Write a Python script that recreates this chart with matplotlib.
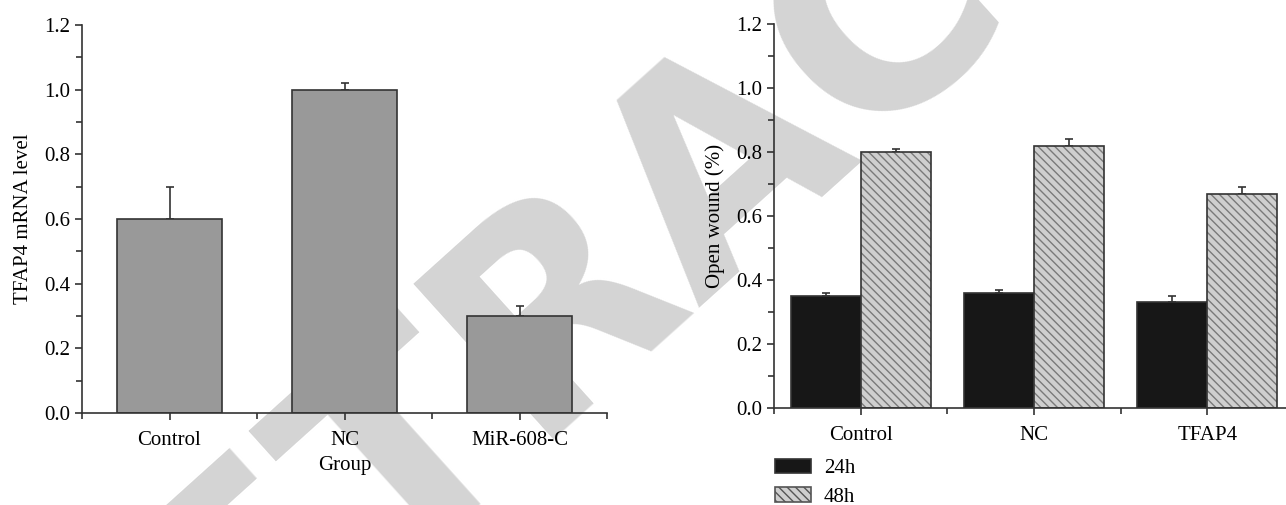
import numpy as np
import matplotlib
matplotlib.use("Agg")
import matplotlib.pyplot as plt
from matplotlib.patches import Patch
from matplotlib.ticker import MultipleLocator, FixedLocator

plt.rcParams['font.family'] = ['Liberation Serif', 'DejaVu Serif']
plt.rcParams['hatch.linewidth'] = 1.0

# left panel: TFAP4 mRNA level
groups_left = ["Control", "NC", "MiR-608-C"]
mrna = [0.60, 1.00, 0.30]
mrna_err = [0.10, 0.02, 0.03]

# right panel: open wound
groups_right = ["Control", "NC", "TFAP4"]
wound_24h = [0.35, 0.36, 0.33]
wound_24h_err = [0.01, 0.01, 0.02]
wound_48h = [0.80, 0.82, 0.67]
wound_48h_err = [0.01, 0.02, 0.02]

axis_col = "#333333"
fs = 15

fig = plt.figure(figsize=(12.86, 5.05), dpi=100)

# watermark, drawn under the axes
fig.text(0.564, 0.693, "RETRACTED", fontsize=207, color="#d4d4d4",
         rotation=42, ha="center", va="center", family="DejaVu Sans",
         fontweight="bold", zorder=-1)


def style_axes(ax):
    ax.patch.set_alpha(0)
    for s in ["top", "right"]:
        ax.spines[s].set_visible(False)
    for s in ["left", "bottom"]:
        ax.spines[s].set_color(axis_col)
        ax.spines[s].set_linewidth(1.2)
    ax.set_ylim(0, 1.2)
    ax.set_xlim(-0.5, 2.5)
    ax.yaxis.set_major_locator(MultipleLocator(0.2))
    ax.yaxis.set_minor_locator(MultipleLocator(0.1))
    ax.xaxis.set_major_locator(FixedLocator([0, 1, 2]))
    ax.xaxis.set_minor_locator(FixedLocator([-0.5, 0.5, 1.5, 2.5]))
    ax.yaxis.set_major_formatter(plt.FormatStrFormatter("%.1f"))
    ax.tick_params(which="both", direction="out", color=axis_col, width=1.2, labelsize=fs)
    ax.tick_params(which="major", length=5)
    ax.tick_params(which="minor", length=4)
    ax.tick_params(axis="x", pad=8)


# ---- left panel
ax1 = fig.add_axes([82 / 1286, 1 - 413 / 505, 525 / 1286, 388 / 505])
style_axes(ax1)
x1 = np.arange(len(groups_left))
ax1.bar(x1, mrna, width=0.6, color="#999999", edgecolor=axis_col, linewidth=1.2, zorder=2)
ax1.errorbar(x1, mrna, yerr=[np.zeros(3), mrna_err], fmt="none", ecolor=axis_col,
             elinewidth=1.2, capsize=3, capthick=1.2, zorder=1)
ax1.set_xticks(x1)
ax1.set_xticklabels(groups_left)
ax1.set_ylabel("TFAP4 mRNA level", fontsize=fs, labelpad=8)
ax1.set_xlabel("Group", fontsize=fs, labelpad=4)

# ---- right panel
ax2 = fig.add_axes([774 / 1286, 1 - 408 / 505, 520 / 1286, 384 / 505])
style_axes(ax2)
x2 = np.arange(len(groups_right))
w = 0.404
ax2.bar(x2 - w / 2, wound_24h, width=w, color="#171717", edgecolor=axis_col, linewidth=1.2, zorder=2)
ax2.bar(x2 + w / 2, wound_48h, width=w, color="#cfcfcf", edgecolor="#7a7a7a",
        hatch="\\\\\\\\", linewidth=0, zorder=2)
ax2.bar(x2 + w / 2, wound_48h, width=w, fill=False, edgecolor=axis_col, linewidth=1.2, zorder=3)
ax2.errorbar(x2 - w / 2, wound_24h, yerr=[np.zeros(3), wound_24h_err], fmt="none",
             ecolor=axis_col, elinewidth=1.2, capsize=3, capthick=1.2, zorder=1)
ax2.errorbar(x2 + w / 2, wound_48h, yerr=[np.zeros(3), wound_48h_err], fmt="none",
             ecolor=axis_col, elinewidth=1.2, capsize=3, capthick=1.2, zorder=1)
ax2.set_xticks(x2)
ax2.set_xticklabels(groups_right)
ax2.set_ylabel("Open wound (%)", fontsize=fs, labelpad=8)

handles = [Patch(facecolor="#171717", edgecolor=axis_col, linewidth=1.2, label="24h"),
           Patch(facecolor="#cfcfcf", edgecolor="#555555", hatch="\\\\\\\\", linewidth=1.2, label="48h")]
fig.legend(handles=handles, loc="upper left", bbox_to_anchor=(775 / 1286, 1 - 459 / 505),
           frameon=False, fontsize=fs, handlelength=1.75, handleheight=0.68,
           handletextpad=0.6, labelspacing=0.42, borderaxespad=0, borderpad=0)

fig.savefig("out.png", dpi=100)
